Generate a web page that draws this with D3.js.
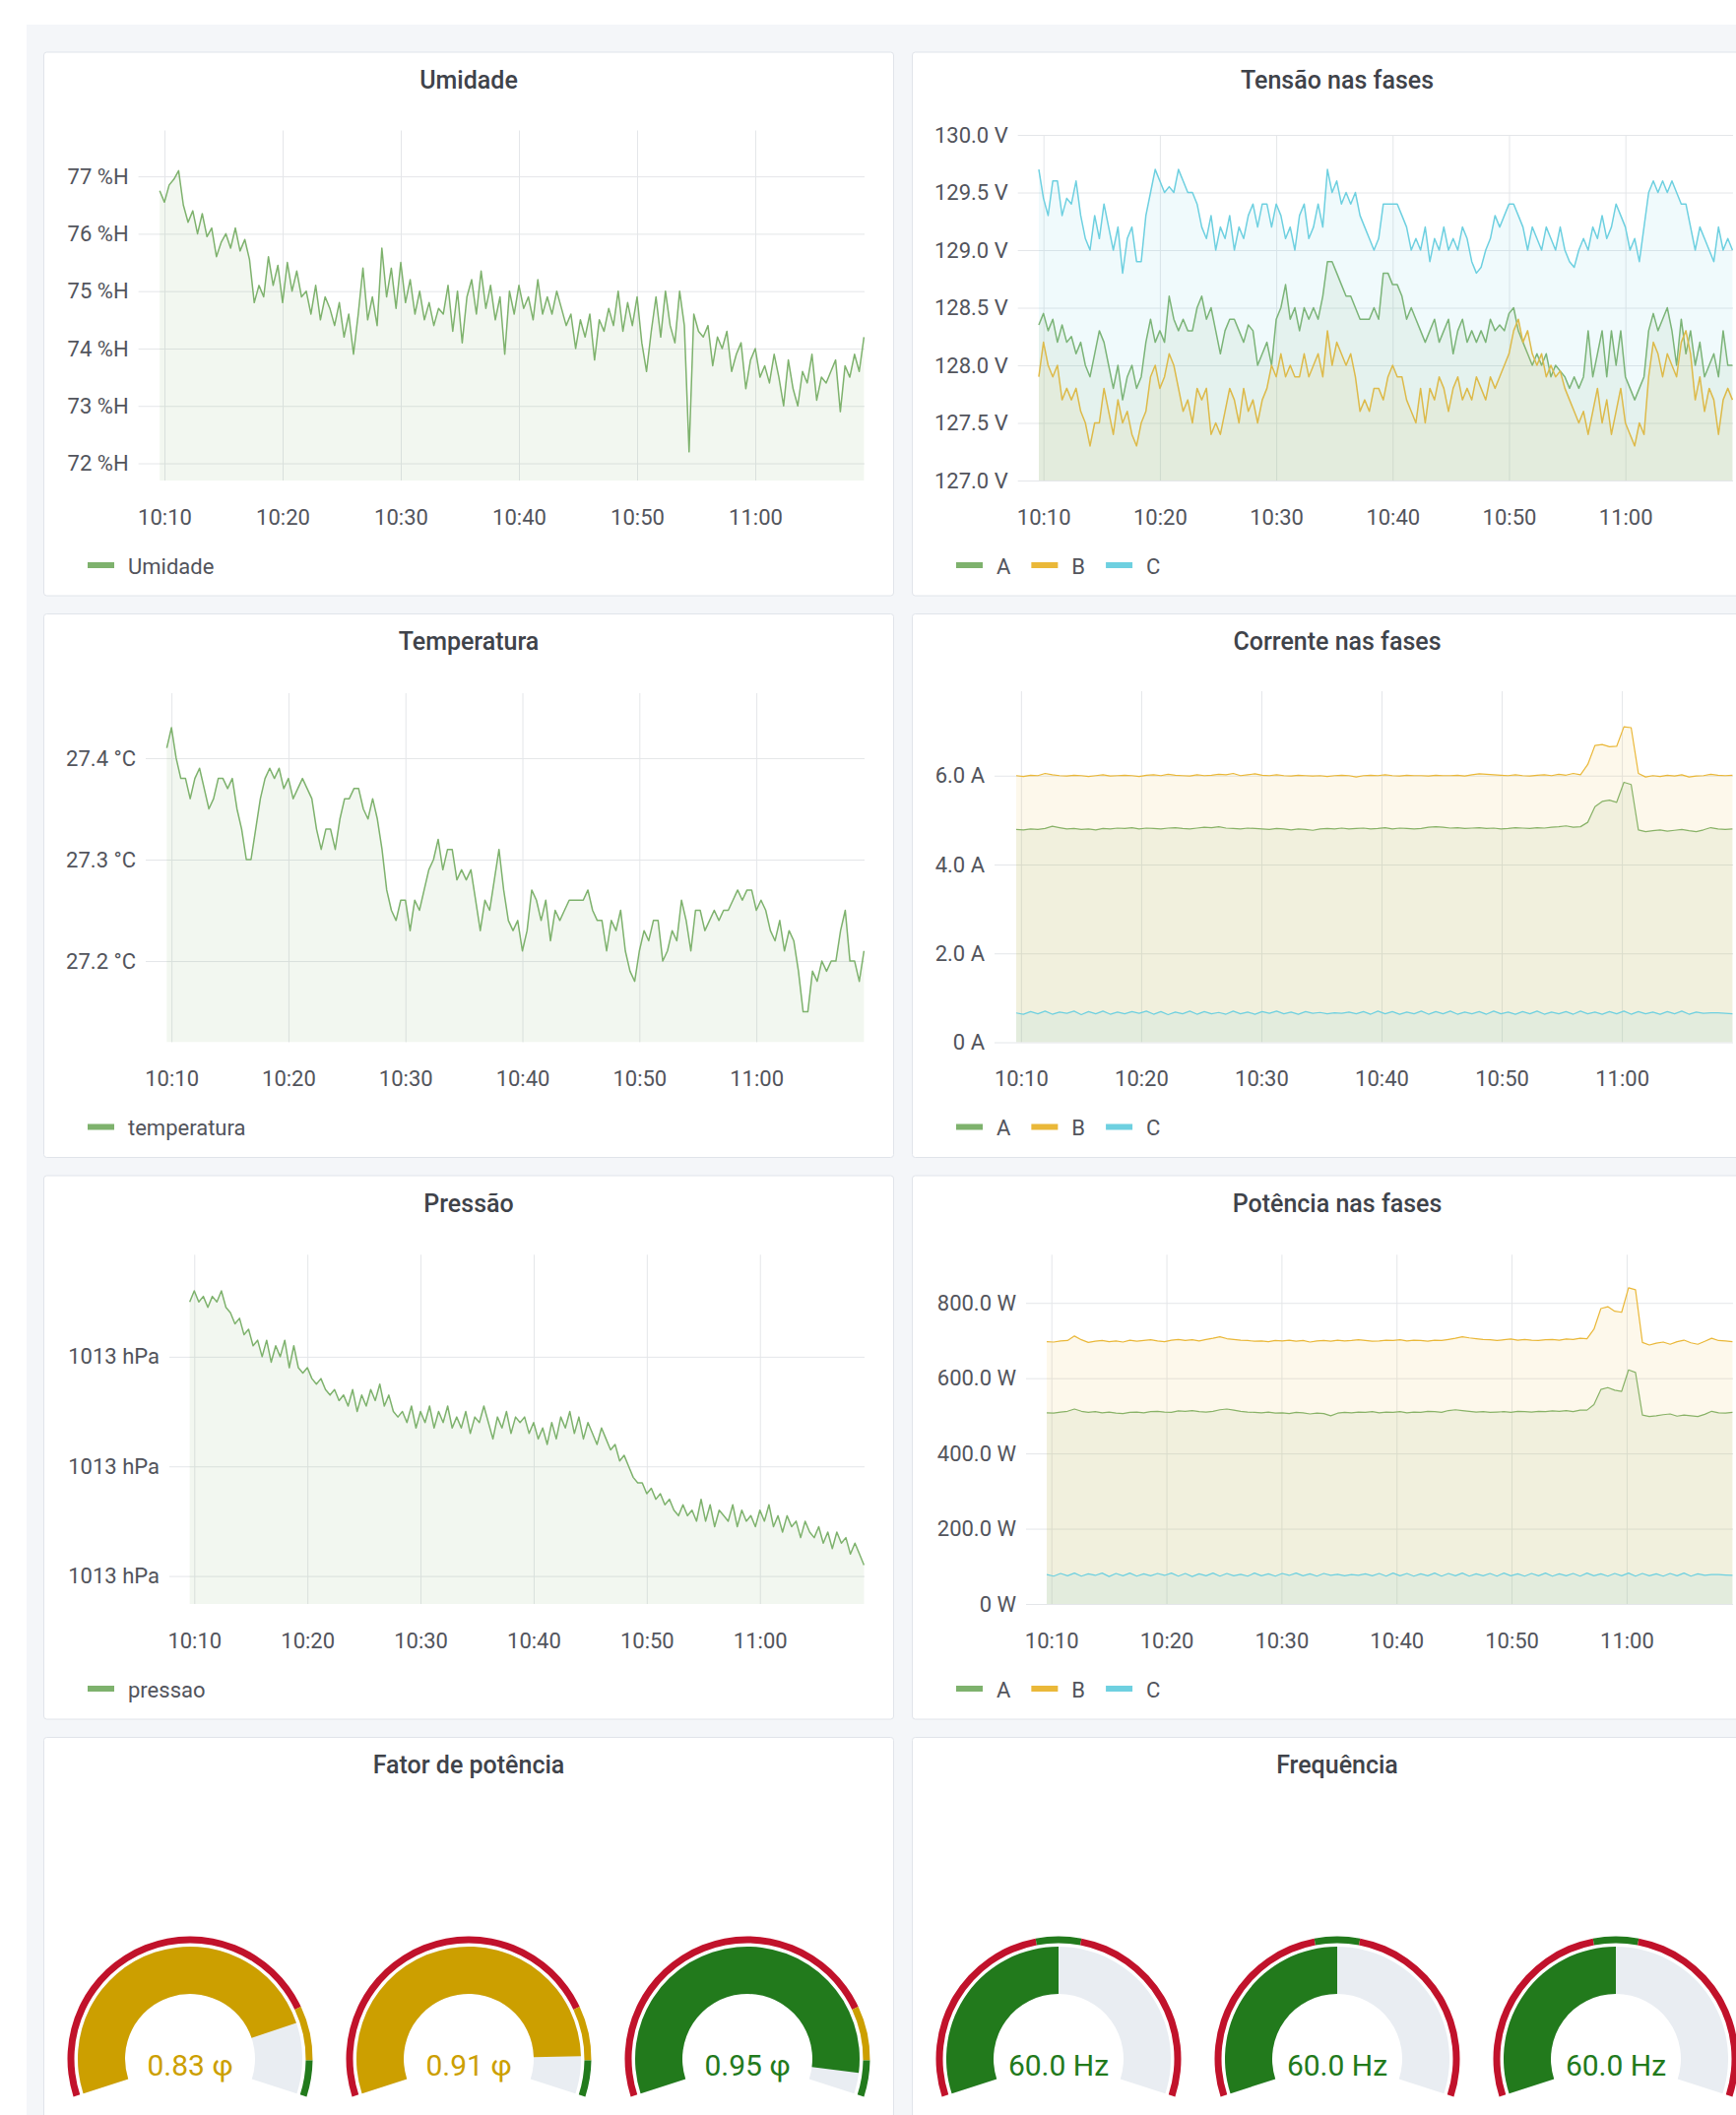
<!DOCTYPE html>
<html><head><meta charset="utf-8">
<script src="https://cdn.jsdelivr.net/npm/d3@7"></script>
<style>
html,body{margin:0;padding:0;background:#fff;}
svg{display:block;font-family:Roboto,"Noto Sans",sans-serif;}
</style></head><body>
<svg id="chart" width="1763" height="2148"></svg>
<script>
// ---------------- DATA ----------------
// time axis (minutes after 10:00)
const X_DOMAIN = [7.8, 69.25];
const SAMPLE_START = 9.6, SAMPLE_END = 69.2;

const umidade = [
76.75,76.55,76.85,76.95,77.1,76.5,76.2,76.4,76.0,76.35,
75.95,76.1,75.6,75.85,76.0,75.75,76.1,75.7,75.9,75.55,
74.8,75.1,74.9,75.6,75.1,75.45,74.8,75.5,75.0,75.35,
74.9,75.0,74.6,75.1,74.5,74.9,74.7,74.4,74.8,74.2,
74.6,73.9,74.6,75.4,74.5,74.9,74.4,75.75,74.9,75.4,
74.7,75.5,74.8,75.2,74.6,75.0,74.5,74.8,74.4,74.7,
74.6,75.1,74.3,75.0,74.1,74.9,75.2,74.6,75.35,74.7,
75.1,74.5,74.9,73.9,75.0,74.6,75.1,74.7,74.9,74.5,
75.2,74.6,74.9,74.6,75.0,74.7,74.4,74.6,74.0,74.5,
74.2,74.6,73.8,74.5,74.3,74.7,74.4,75.0,74.3,74.8,
74.4,74.9,74.1,73.6,74.3,74.9,74.2,75.0,74.4,74.1,
75.0,74.4,72.2,74.6,74.3,74.2,74.4,73.7,74.2,74.0,
74.3,73.6,73.9,74.1,73.3,73.8,74.0,73.5,73.7,73.4,
73.9,73.5,73.0,73.8,73.3,73.0,73.6,73.4,73.9,73.1,
73.5,73.4,73.6,73.8,72.9,73.7,73.5,73.9,73.6,74.2];

const temperatura = [
27.41,27.43,27.40,27.38,27.38,27.36,27.38,27.39,27.37,27.35,
27.36,27.38,27.38,27.37,27.38,27.35,27.33,27.30,27.30,27.33,
27.36,27.38,27.39,27.38,27.39,27.37,27.38,27.36,27.37,27.38,
27.37,27.36,27.33,27.31,27.33,27.33,27.31,27.34,27.36,27.36,
27.37,27.37,27.35,27.34,27.36,27.34,27.31,27.27,27.25,27.24,
27.26,27.26,27.23,27.26,27.25,27.27,27.29,27.30,27.32,27.29,
27.31,27.31,27.28,27.29,27.28,27.29,27.26,27.23,27.26,27.25,
27.28,27.31,27.27,27.24,27.23,27.24,27.21,27.23,27.27,27.26,
27.24,27.26,27.22,27.25,27.24,27.25,27.26,27.26,27.26,27.26,
27.27,27.25,27.24,27.24,27.21,27.24,27.23,27.25,27.21,27.19,
27.18,27.21,27.23,27.22,27.24,27.24,27.20,27.21,27.23,27.22,
27.26,27.24,27.21,27.25,27.25,27.23,27.24,27.25,27.24,27.25,
27.25,27.26,27.27,27.26,27.27,27.27,27.25,27.26,27.25,27.23,
27.22,27.24,27.21,27.23,27.22,27.19,27.15,27.15,27.19,27.18,
27.20,27.19,27.20,27.20,27.23,27.25,27.20,27.20,27.18,27.21];

const pressao = [
1013.50,1013.52,1013.50,1013.51,1013.49,1013.51,1013.50,1013.52,1013.49,1013.48,
1013.46,1013.47,1013.44,1013.45,1013.42,1013.43,1013.40,1013.43,1013.39,1013.42,
1013.40,1013.43,1013.38,1013.42,1013.38,1013.37,1013.38,1013.36,1013.35,1013.36,
1013.34,1013.33,1013.34,1013.32,1013.33,1013.31,1013.34,1013.30,1013.33,1013.31,
1013.34,1013.32,1013.35,1013.31,1013.33,1013.30,1013.29,1013.30,1013.28,1013.31,
1013.27,1013.30,1013.28,1013.31,1013.27,1013.30,1013.28,1013.31,1013.27,1013.29,
1013.27,1013.30,1013.26,1013.29,1013.28,1013.31,1013.28,1013.25,1013.29,1013.27,
1013.30,1013.26,1013.29,1013.28,1013.29,1013.26,1013.28,1013.25,1013.27,1013.24,
1013.28,1013.25,1013.29,1013.27,1013.30,1013.26,1013.29,1013.25,1013.28,1013.26,
1013.24,1013.27,1013.25,1013.23,1013.24,1013.21,1013.22,1013.20,1013.18,1013.17,
1013.17,1013.15,1013.16,1013.14,1013.15,1013.13,1013.14,1013.12,1013.11,1013.13,
1013.11,1013.12,1013.10,1013.14,1013.10,1013.13,1013.09,1013.12,1013.11,1013.10,
1013.13,1013.09,1013.12,1013.10,1013.11,1013.09,1013.12,1013.10,1013.13,1013.09,
1013.11,1013.08,1013.11,1013.09,1013.10,1013.07,1013.10,1013.08,1013.07,1013.09,
1013.06,1013.08,1013.05,1013.08,1013.06,1013.07,1013.04,1013.06,1013.04,1013.02];

const tensaoA = [
128.35,128.45,128.3,128.4,128.2,128.35,128.2,128.25,128.1,128.2,
128.0,127.9,128.1,128.3,128.2,128.0,127.8,128.0,127.7,127.9,
128.0,127.8,127.9,128.2,128.4,128.2,128.3,128.2,128.6,128.4,
128.3,128.4,128.3,128.3,128.5,128.6,128.4,128.5,128.3,128.1,
128.3,128.4,128.4,128.3,128.2,128.35,128.3,128.0,128.1,128.2,
128.0,128.4,128.5,128.7,128.4,128.5,128.3,128.5,128.4,128.5,
128.4,128.6,128.9,128.9,128.8,128.7,128.6,128.6,128.5,128.4,
128.4,128.4,128.5,128.4,128.8,128.8,128.7,128.7,128.6,128.4,
128.5,128.4,128.3,128.2,128.3,128.4,128.2,128.3,128.4,128.1,
128.3,128.4,128.2,128.3,128.2,128.3,128.2,128.4,128.3,128.35,
128.3,128.45,128.5,128.3,128.2,128.1,128.0,128.1,128.0,128.1,
127.9,128.0,127.95,127.9,127.8,127.9,127.8,127.9,128.3,127.9,
128.1,128.3,127.9,128.3,128.0,128.3,127.9,127.8,127.7,127.8,
127.9,128.3,128.45,128.3,128.4,128.5,128.3,128.0,128.4,128.1,
128.3,128.0,128.2,127.9,128.0,128.1,127.9,128.3,128.0,128.0];

const tensaoB = [
127.9,128.2,128.0,127.9,128.0,127.7,127.8,127.7,127.8,127.6,
127.5,127.3,127.5,127.5,127.8,127.6,127.4,127.7,127.5,127.6,
127.4,127.3,127.5,127.6,127.9,128.0,127.8,127.9,128.1,128.0,
127.8,127.6,127.7,127.5,127.8,127.7,127.8,127.4,127.5,127.4,
127.6,127.8,127.7,127.5,127.8,127.6,127.7,127.5,127.7,127.8,
128.0,127.9,128.1,127.9,128.0,127.9,127.9,128.1,127.9,128.0,
128.1,127.9,128.3,128.0,128.2,128.1,128.0,128.1,127.9,127.6,
127.7,127.6,127.8,127.8,127.7,127.9,128.0,127.9,127.9,127.7,
127.6,127.5,127.8,127.5,127.8,127.7,127.9,127.8,127.6,127.8,
127.9,127.7,127.8,127.7,127.9,127.8,127.7,127.9,127.8,127.9,
128.0,128.1,128.3,128.4,128.2,128.3,128.1,128.0,128.1,127.9,
128.0,127.9,127.95,127.8,127.7,127.6,127.5,127.6,127.4,127.6,
127.8,127.5,127.7,127.4,127.6,127.8,127.5,127.4,127.3,127.5,
127.4,127.9,128.2,128.1,127.9,128.1,128.0,127.9,128.2,128.3,
128.1,127.7,127.9,127.6,127.8,127.7,127.4,127.7,127.8,127.7];

const tensaoC = [
129.7,129.45,129.3,129.6,129.6,129.3,129.45,129.4,129.6,129.3,
129.1,129.0,129.3,129.1,129.4,129.2,129.0,129.2,128.8,129.1,
129.2,128.9,128.9,129.3,129.5,129.7,129.6,129.5,129.55,129.5,
129.7,129.6,129.5,129.5,129.4,129.2,129.1,129.3,129.0,129.2,
129.1,129.3,129.0,129.2,129.1,129.3,129.4,129.2,129.4,129.4,
129.2,129.4,129.3,129.1,129.2,129.0,129.3,129.4,129.1,129.2,
129.4,129.2,129.7,129.5,129.6,129.4,129.5,129.4,129.5,129.3,
129.2,129.1,129.0,129.1,129.4,129.4,129.4,129.4,129.3,129.2,
129.0,129.1,129.0,129.2,128.9,129.1,129.0,129.2,129.0,129.1,
129.0,129.2,129.1,128.9,128.8,128.85,129.0,129.1,129.3,129.2,
129.3,129.4,129.4,129.3,129.2,129.0,129.2,129.1,129.0,129.2,
129.1,129.0,129.2,129.0,128.9,128.85,129.0,129.1,129.0,129.2,
129.1,129.3,129.1,129.2,129.4,129.3,129.2,129.0,129.1,128.9,
129.2,129.5,129.6,129.5,129.6,129.5,129.6,129.5,129.4,129.4,
129.2,129.0,129.2,129.1,129.0,128.9,129.2,129.0,129.1,129.0];

const correnteA = [
4.79,4.78,4.80,4.79,4.81,4.86,4.83,4.80,4.81,4.79,
4.80,4.78,4.81,4.80,4.82,4.81,4.83,4.80,4.82,4.81,
4.80,4.82,4.83,4.81,4.80,4.82,4.84,4.83,4.85,4.82,
4.81,4.80,4.82,4.81,4.80,4.79,4.81,4.80,4.78,4.80,
4.79,4.77,4.80,4.81,4.80,4.82,4.80,4.81,4.82,4.80,
4.81,4.83,4.80,4.82,4.81,4.80,4.81,4.84,4.85,4.84,
4.82,4.83,4.81,4.82,4.83,4.81,4.82,4.80,4.81,4.83,
4.82,4.81,4.83,4.82,4.84,4.85,4.87,4.84,4.85,4.95,
5.30,5.42,5.45,5.40,5.85,5.80,4.78,4.74,4.76,4.78,
4.75,4.77,4.79,4.76,4.74,4.78,4.83,4.80,4.79,4.80];

const correnteB = [
6.00,5.98,6.01,6.00,6.05,6.02,6.00,5.99,6.01,6.00,
5.98,6.00,6.02,5.99,6.00,6.01,6.00,5.98,6.01,6.02,
6.00,6.03,6.01,6.00,5.99,6.02,6.00,6.01,6.03,6.02,
6.05,6.00,6.02,6.04,6.01,6.00,6.02,6.00,5.99,6.01,
6.00,5.99,6.00,5.98,6.00,6.01,6.00,5.97,6.00,6.01,
6.00,6.02,6.00,5.99,6.01,6.00,6.00,5.99,6.01,6.00,
6.00,6.01,5.99,6.02,6.04,6.03,6.02,6.01,6.00,6.02,
6.00,5.99,6.01,6.02,6.00,6.03,6.01,6.05,6.02,6.25,
6.68,6.70,6.65,6.66,7.10,7.08,6.05,5.97,6.00,5.98,
6.01,5.99,6.02,5.97,5.99,6.00,6.03,6.01,6.00,6.01];

const correnteC = [
0.66,0.63,0.69,0.64,0.70,0.63,0.68,0.65,0.70,0.62,
0.69,0.64,0.70,0.63,0.68,0.64,0.69,0.65,0.70,0.63,
0.69,0.62,0.68,0.64,0.70,0.63,0.69,0.64,0.67,0.63,
0.70,0.64,0.68,0.63,0.69,0.65,0.70,0.64,0.68,0.63,
0.69,0.65,0.67,0.64,0.66,0.65,0.68,0.64,0.69,0.63,
0.70,0.64,0.69,0.63,0.68,0.64,0.70,0.63,0.69,0.64,
0.70,0.63,0.68,0.64,0.69,0.63,0.70,0.64,0.68,0.63,
0.69,0.64,0.70,0.63,0.68,0.64,0.69,0.63,0.70,0.64,
0.68,0.63,0.69,0.64,0.70,0.63,0.69,0.64,0.68,0.63,
0.69,0.64,0.70,0.63,0.68,0.65,0.66,0.66,0.65,0.64];

const potenciaA = [
508,507,510,512,518,512,509,511,508,510,
507,506,509,510,508,511,512,510,509,513,
512,514,511,510,512,516,518,515,512,510,
509,508,510,507,508,506,509,508,505,507,
506,500,507,509,508,510,509,511,508,510,
509,511,508,510,509,512,511,509,514,516,
514,512,510,511,509,510,511,509,512,511,
510,512,511,513,512,514,511,515,515,530,
570,575,568,565,622,615,502,498,500,503,
505,499,502,500,498,504,512,508,507,509];

const potenciaB = [
697,696,699,700,712,702,695,698,700,697,
699,696,701,698,700,702,699,697,701,703,
700,702,699,703,706,710,705,703,701,700,
698,699,697,700,699,701,698,700,696,699,
700,698,701,699,700,702,700,698,699,701,
700,702,699,701,700,698,701,700,703,706,
710,707,705,703,702,700,702,704,701,703,
701,700,702,703,701,704,703,706,705,730,
785,790,778,775,840,835,695,688,693,696,
690,697,701,694,690,698,706,700,699,697];

const potenciaC = [
78,74,81,75,82,74,80,76,82,73,
81,75,82,74,80,75,81,76,82,74,
81,73,80,75,82,74,81,75,79,74,
82,75,80,74,81,76,82,75,80,74,
81,76,79,75,78,76,80,75,81,74,
82,75,81,74,80,75,82,74,81,75,
82,74,80,75,81,74,82,75,80,74,
81,75,82,74,80,75,81,74,82,75,
80,74,81,75,82,74,81,75,80,74,
81,75,82,74,80,76,78,78,77,76];

const umidadeTicks = [72,73,74,75,76,77];
const tensaoTicks = [127.0,127.5,128.0,128.5,129.0,129.5,130.0];
const temperaturaTicks = [27.2,27.3,27.4];
const correnteTicks = [0,2,4,6];
const pressaoTicks = [1013.0,1013.2,1013.4];
const potenciaTicks = [0,200,400,600,800];

const phaseNames = ["A","B","C"];
const fatorValues = [0.83, 0.91, 0.95];
const frequenciaValues = [60.0, 60.0, 60.0];

// ---------------- STYLE / LAYOUT ----------------
const COLORS = {green:"#7eb26d", yellow:"#eab839", cyan:"#6ed0e0"};
const G_RED = "#c1122b", G_YELLOW = "#cc9f00", G_GREEN = "#227a1c", G_BG = "#e9edf2";
const W = 1763, H = 2148;
const PANEL_W = 864, PANEL_H = 553;
const COL_X = [44, 926];
const ROW_Y = [52.5, 623, 1193.5, 1764];
const PLOT_BOTTOM = 435.5, PLOT_RIGHT = PANEL_W - 30;
const BASE = new Date(2021, 4, 10, 10, 0, 0);
const tm = m => new Date(BASE.getTime() + m * 60000);
const TEXT = "#52545c";

const svg = d3.select("#chart");
svg.append("rect").attr("width", W).attr("height", H).attr("fill", "#ffffff");
svg.append("rect").attr("x", 27).attr("y", 25).attr("width", W - 27).attr("height", H - 25).attr("fill", "#f4f6f9");

function makePanel(col, row, title) {
  const g = svg.append("g").attr("transform", `translate(${COL_X[col]},${ROW_Y[row]})`);
  g.append("rect").attr("x", 0.5).attr("y", 0.5).attr("width", PANEL_W - 1).attr("height", PANEL_H - 1)
    .attr("rx", 3).attr("fill", "#fff").attr("stroke", "#e0e4ea");
  g.append("text").attr("x", PANEL_W / 2).attr("y", 37).attr("text-anchor", "middle")
    .attr("font-size", 25).attr("font-weight", 500).attr("fill", "#3f434a").text(title);
  return g;
}

let clipCount = 0;
function drawGraph(g, cfg) {
  const left = cfg.plotLeft, top = cfg.plotTop, right = PLOT_RIGHT, bottom = PLOT_BOTTOM;
  const x = d3.scaleTime().domain([tm(X_DOMAIN[0]), tm(X_DOMAIN[1])]).range([left, right]);
  const y = d3.scaleLinear().domain(cfg.yDomain).range([bottom, top]);

  const yAxis = d3.axisLeft(y).tickValues(cfg.yTicks).tickFormat(cfg.yFormat)
    .tickSize(-(right - left)).tickPadding(10);
  const ga = g.append("g").attr("transform", `translate(${left},0)`).call(yAxis);
  const xAxis = d3.axisBottom(x).ticks(d3.timeMinute.every(10)).tickFormat(d3.timeFormat("%H:%M"))
    .tickSize(-(bottom - top)).tickPadding(29);
  const gx = g.append("g").attr("transform", `translate(0,${bottom})`).call(xAxis);
  [ga, gx].forEach(a => {
    a.attr("font-family", "Roboto, sans-serif").attr("font-size", 22);
    a.select(".domain").remove();
    a.selectAll(".tick line").attr("stroke", "#e4e6e9");
    a.selectAll(".tick text").attr("fill", TEXT);
  });

  const id = "clip" + (clipCount++);
  g.append("clipPath").attr("id", id).append("rect")
    .attr("x", left).attr("y", top - 3).attr("width", right - left).attr("height", bottom - top + 3);
  const plot = g.append("g").attr("clip-path", `url(#${id})`);

  cfg.series.forEach(s => {
    const n = s.values.length;
    const step = (SAMPLE_END - SAMPLE_START) / (n - 1);
    const pts = s.values.map((v, i) => [tm(SAMPLE_START + i * step), v]);
    plot.append("path").datum(pts)
      .attr("d", d3.area().x(d => x(d[0])).y0(bottom).y1(d => y(d[1])))
      .attr("fill", s.color).attr("fill-opacity", 0.1);
    plot.append("path").datum(pts)
      .attr("d", d3.line().x(d => x(d[0])).y(d => y(d[1])))
      .attr("fill", "none").attr("stroke", s.color).attr("stroke-width", cfg.lineWidth || 1.5)
      .attr("stroke-linejoin", "round");
  });

  // legend
  let lx = 45;
  cfg.series.forEach(s => {
    g.append("rect").attr("x", lx).attr("y", 518.5).attr("width", 27).attr("height", 6).attr("fill", s.color);
    const t = g.append("text").attr("x", lx + 41).attr("y", 530).attr("font-size", 22)
      .attr("fill", TEXT).text(s.name);
    lx += 41 + t.node().getComputedTextLength() + 21;
  });
}

// ---------------- GRAPHS ----------------
drawGraph(makePanel(0, 0, "Umidade"), {
  plotLeft: 96.6, plotTop: 80, yDomain: [71.7, 77.8], yTicks: umidadeTicks,
  yFormat: d => d + " %H",
  series: [{name: "Umidade", values: umidade, color: COLORS.green}]
});

drawGraph(makePanel(1, 0, "Tensão nas fases"), {
  plotLeft: 107.7, plotTop: 84.5, yDomain: [127, 130], yTicks: tensaoTicks,
  yFormat: d => d.toFixed(1) + " V",
  series: [
    {name: phaseNames[0], values: tensaoA, color: COLORS.green},
    {name: phaseNames[1], values: tensaoB, color: COLORS.yellow},
    {name: phaseNames[2], values: tensaoC, color: COLORS.cyan}]
});

drawGraph(makePanel(0, 1, "Temperatura"), {
  plotLeft: 104, plotTop: 81, yDomain: [27.12, 27.464], yTicks: temperaturaTicks,
  yFormat: d => d.toFixed(1) + " °C",
  series: [{name: "temperatura", values: temperatura, color: COLORS.green}]
});

drawGraph(makePanel(1, 1, "Corrente nas fases"), {
  plotLeft: 84, plotTop: 79, yDomain: [0, 7.9], yTicks: correnteTicks, lineWidth: 1.2,
  yFormat: d => d === 0 ? "0 A" : d.toFixed(1) + " A",
  series: [
    {name: phaseNames[0], values: correnteA, color: COLORS.green},
    {name: phaseNames[1], values: correnteB, color: COLORS.yellow},
    {name: phaseNames[2], values: correnteC, color: COLORS.cyan}]
});

drawGraph(makePanel(0, 2, "Pressão"), {
  plotLeft: 128, plotTop: 80.8, yDomain: [1012.949, 1013.586], yTicks: pressaoTicks,
  yFormat: d => d3.format(".0f")(d) + " hPa",
  series: [{name: "pressao", values: pressao, color: COLORS.green}]
});

drawGraph(makePanel(1, 2, "Potência nas fases"), {
  plotLeft: 116, plotTop: 80.8, yDomain: [0, 928], yTicks: potenciaTicks, lineWidth: 1.2,
  yFormat: d => d === 0 ? "0 W" : d.toFixed(1) + " W",
  series: [
    {name: phaseNames[0], values: potenciaA, color: COLORS.green},
    {name: phaseNames[1], values: potenciaB, color: COLORS.yellow},
    {name: phaseNames[2], values: potenciaC, color: COLORS.cyan}]
});

// ---------------- GAUGES ----------------
const A0 = -108 * Math.PI / 180, A1 = 108 * Math.PI / 180;
function colorFor(v, thresholds) {
  let c = thresholds[0].color;
  thresholds.forEach(t => { if (v >= t.from) c = t.color; });
  return c;
}
function drawGauge(g, cx, cy, val, cfg) {
  const ang = d3.scaleLinear().domain([cfg.min, cfg.max]).range([A0, A1]).clamp(true);
  const gg = g.append("g").attr("transform", `translate(${cx},${cy})`);
  const R = 124.5;
  cfg.thresholds.forEach((t, i) => {
    const from = Math.max(t.from, cfg.min);
    const to = i < cfg.thresholds.length - 1 ? cfg.thresholds[i + 1].from : cfg.max;
    gg.append("path").attr("d", d3.arc()({innerRadius: R - 7, outerRadius: R, startAngle: ang(from), endAngle: ang(to)}))
      .attr("fill", t.color);
  });
  gg.append("path").attr("d", d3.arc()({innerRadius: 66, outerRadius: 114, startAngle: A0, endAngle: A1}))
    .attr("fill", G_BG);
  const col = colorFor(val, cfg.thresholds);
  gg.append("path").attr("d", d3.arc()({innerRadius: 66, outerRadius: 114, startAngle: A0, endAngle: ang(val)}))
    .attr("fill", col);
  gg.append("text").attr("y", 17).attr("text-anchor", "middle").attr("font-size", 30)
    .attr("font-weight", 400).attr("fill", col).text(cfg.format(val));
}

const fatorPanel = makePanel(0, 3, "Fator de potência");
const fatorCfg = {min: 0, max: 1, format: v => d3.format(".2f")(v) + " φ",
  thresholds: [{from: -Infinity, color: G_RED}, {from: 0.80, color: G_YELLOW}, {from: 0.92, color: G_GREEN}]};
fatorValues.forEach((v, i) => drawGauge(fatorPanel, PANEL_W / 2 + (i - 1) * 283, 327, v, fatorCfg));

const freqPanel = makePanel(1, 3, "Frequência");
const freqCfg = {min: 59, max: 61, format: v => v.toFixed(1) + " Hz",
  thresholds: [{from: -Infinity, color: G_RED}, {from: 59.9, color: G_GREEN}, {from: 60.1, color: G_RED}]};
frequenciaValues.forEach((v, i) => drawGauge(freqPanel, PANEL_W / 2 + (i - 1) * 283, 327, v, freqCfg));
</script>
</body></html>
